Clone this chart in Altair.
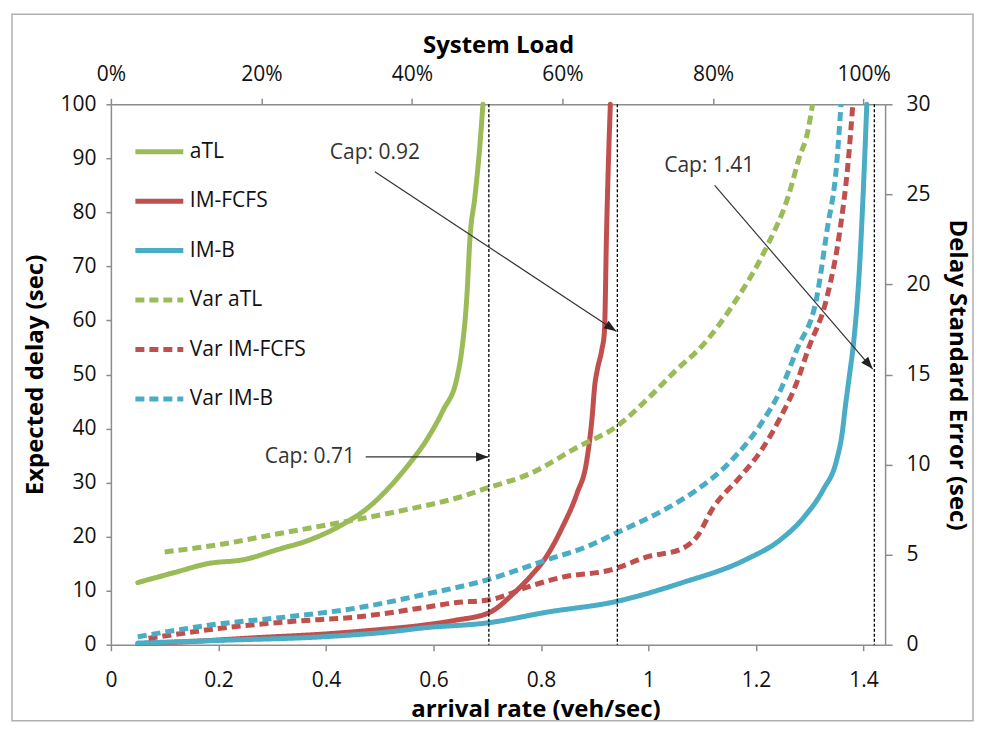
import math
import altair as alt
import pandas as pd

# ---------------- data ----------------
X_MAX = 1.44
LOAD_MAX = X_MAX / 1.4

series_names = ["aTL", "IM-FCFS", "IM-B", "Var aTL", "Var IM-FCFS", "Var IM-B"]
series_colors = ["#9BBB59", "#C0504D", "#4BACC6", "#9BBB59", "#C0504D", "#4BACC6"]
series_dash = [[1, 0], [1, 0], [1, 0], [9, 5], [9, 5], [9, 5]]
series_width = [5, 5, 5, 3, 3, 3]

# expected delay (sec), left axis
atl_x = [0.05, 0.12, 0.18, 0.25, 0.31, 0.37, 0.43, 0.48, 0.525, 0.556, 0.588, 0.618,
         0.644, 0.652, 0.662, 0.668, 0.677, 0.686, 0.692]
atl_y = [11.5, 13.4, 15.0, 15.8, 17.6, 19.4, 22.2, 25.5, 29.9, 33.6, 38.0, 43.4,
         49.5, 54.0, 64.3, 75.4, 82.8, 92.0, 100.0]

fcfs_x = [0.05, 0.15, 0.27, 0.40, 0.50, 0.58, 0.64, 0.705, 0.75, 0.78, 0.81, 0.84,
          0.867, 0.885, 0.895, 0.90, 0.905, 0.913, 0.918, 0.922, 0.925, 0.929]
fcfs_y = [0.2, 0.6, 1.3, 2.0, 2.8, 3.6, 4.5, 6.0, 9.6, 12.6, 16.3, 21.8,
          28.0, 34.0, 42.0, 48.0, 51.0, 54.5, 58.0, 76.7, 88.0, 100.0]

imb_x = [0.05, 0.20, 0.40, 0.52, 0.58, 0.705, 0.81, 0.94, 1.06, 1.18, 1.245, 1.29,
         1.325, 1.35, 1.36, 1.366, 1.375, 1.381, 1.393, 1.399, 1.406]
imb_y = [0.3, 0.8, 1.5, 2.4, 3.1, 4.1, 6.0, 8.0, 11.4, 15.7, 19.4, 23.7,
         28.7, 34.2, 39.0, 44.0, 50.8, 55.5, 70.8, 83.0, 100.0]

# delay standard error (sec), right axis
var_atl_x = [0.10, 0.20, 0.30, 0.43, 0.55, 0.65, 0.70, 0.78, 0.87, 0.94, 1.00, 1.05,
             1.10, 1.16, 1.22, 1.26, 1.28, 1.297, 1.305]
var_atl_y = [5.15, 5.55, 6.1, 6.8, 7.5, 8.2, 8.7, 9.5, 11.0, 12.1, 13.7, 15.2,
             16.6, 19.0, 22.1, 24.9, 27.0, 28.6, 30.0]

var_fcfs_x = [0.07, 0.20, 0.33, 0.46, 0.58, 0.64, 0.705, 0.72, 0.77, 0.84, 0.93, 1.00,
              1.06, 1.09, 1.12, 1.17, 1.21, 1.245, 1.275, 1.297, 1.332, 1.356, 1.371, 1.38]
var_fcfs_y = [0.35, 0.9, 1.28, 1.55, 2.05, 2.33, 2.5, 2.6, 3.15, 3.75, 4.15, 4.9,
              5.3, 6.0, 7.6, 9.3, 10.8, 12.6, 14.5, 16.4, 19.3, 23.0, 26.7, 30.0]

var_imb_x = [0.05, 0.20, 0.33, 0.46, 0.58, 0.70, 0.81, 0.89, 0.94, 1.03, 1.09, 1.15,
             1.21, 1.245, 1.276, 1.313, 1.332, 1.35, 1.358]
var_imb_y = [0.44, 1.15, 1.55, 2.05, 2.77, 3.6, 4.7, 5.5, 6.2, 7.5, 8.6, 10.1,
             12.3, 14.1, 16.4, 19.3, 23.0, 26.7, 30.0]

# capacity markers and annotations
cap_x = [0.703, 0.942, 1.42]
ann_text = ["Cap: 0.71", "Cap: 0.92", "Cap: 1.41"]
ann_text_x = [0.37, 0.491, 1.113]
ann_text_y = [34.7, 90.9, 88.5]
arrow_x1 = [0.474, 0.491, 1.123]
arrow_y1 = [34.75, 87.5, 85.0]
arrow_x2 = [0.702, 0.940, 1.417]
arrow_y2 = [34.75, 58.0, 51.0]

load_ticks = [0, 0.2, 0.4, 0.6, 0.8, 1.0]

# ---------------- layout ----------------
W, H = 775, 541
FONT = "Open Sans"

def long(xs, ys, name, col):
    return pd.DataFrame({"x": xs, col: ys, "series": name})

solid_df = pd.concat([
    long(atl_x, atl_y, "aTL", "y"),
    long(fcfs_x, fcfs_y, "IM-FCFS", "y"),
    long(imb_x, imb_y, "IM-B", "y"),
], ignore_index=True)
solid_df["order"] = solid_df.index

dash_df = pd.concat([
    long(var_atl_x, var_atl_y, "Var aTL", "se"),
    long(var_fcfs_x, var_fcfs_y, "Var IM-FCFS", "se"),
    long(var_imb_x, var_imb_y, "Var IM-B", "se"),
], ignore_index=True)
dash_df["order"] = dash_df.index

px_x = W / X_MAX
px_y = H / 100.0
angles = []
for x1, y1, x2, y2 in zip(arrow_x1, arrow_y1, arrow_x2, arrow_y2):
    dx = (x2 - x1) * px_x
    dy = -(y2 - y1) * px_y
    angles.append(math.degrees(math.atan2(dy, dx)) % 360)

ann_df = pd.DataFrame({
    "text": ann_text, "tx": ann_text_x, "ty": ann_text_y,
    "x1": arrow_x1, "y1": arrow_y1, "x2": arrow_x2, "y2": arrow_y2, "ang": angles,
})
cap_df = pd.DataFrame({"cap": cap_x})
load_df = pd.DataFrame({"load": load_ticks})

xscale = alt.Scale(domain=[0, X_MAX], nice=False, zero=False)
yscale_ann = alt.Scale(domain=[0, 100], nice=False)

legend = alt.Legend(
    title=None, orient="none", legendX=22, legendY=21, symbolType="stroke",
    symbolSize=2300, labelFontSize=21, labelFont=FONT, labelColor="#111",
    rowPadding=12.5, labelOffset=4, symbolOpacity=1,
)
color_enc = alt.Color("series:N", scale=alt.Scale(domain=series_names, range=series_colors), legend=legend)
dash_enc = alt.StrokeDash("series:N", scale=alt.Scale(domain=series_names, range=series_dash), legend=legend)
width_enc = alt.StrokeWidth("series:N", scale=alt.Scale(domain=series_names, range=series_width), legend=legend)

x_axis = alt.Axis(
    title="arrival rate (veh/sec)", values=[0, 0.2, 0.4, 0.6, 0.8, 1.0, 1.2, 1.4],
    labelExpr="datum.value == 0 ? '0' : format(datum.value, '.1~f')",
    tickSize=6, labelPadding=19, titlePadding=7, titleX=425,
)

solid = alt.Chart(solid_df).mark_line(strokeCap="round", strokeJoin="round",
                                      interpolate="monotone").encode(
    x=alt.X("x:Q", scale=xscale, axis=x_axis),
    y=alt.Y("y:Q", scale=alt.Scale(domain=[0, 100], nice=False),
            axis=alt.Axis(title="Expected delay (sec)", values=list(range(0, 101, 10)),
                          tickSize=5, labelPadding=10, titlePadding=12)),
    color=color_enc, strokeDash=dash_enc, strokeWidth=width_enc,
    detail="series:N", order="order:Q",
)

dashed = alt.Chart(dash_df).mark_line(strokeCap="butt", strokeJoin="round",
                                      interpolate="monotone").encode(
    x=alt.X("x:Q", scale=xscale),
    y=alt.Y("se:Q", scale=alt.Scale(domain=[0, 30], nice=False),
            axis=alt.Axis(orient="right", title="Delay Standard Error (sec)",
                          values=list(range(0, 31, 5)), tickSize=7, labelPadding=14,
                          titlePadding=14)),
    color=color_enc, strokeDash=dash_enc, strokeWidth=width_enc,
    detail="series:N", order="order:Q",
)

caps = alt.Chart(cap_df).mark_rule(color="#000", strokeDash=[3, 2], strokeWidth=1.3).encode(
    x=alt.X("cap:Q", scale=xscale),
)

arrows = alt.Chart(ann_df).mark_rule(color="#333", strokeWidth=1.2).encode(
    x=alt.X("x1:Q", scale=xscale), x2="x2:Q",
    y=alt.Y("y1:Q", scale=yscale_ann, axis=None), y2="y2:Q",
)

heads = alt.Chart(ann_df).mark_point(
    shape="M0,0L-2,-0.75L-2,0.75Z", filled=True, color="#222", size=150, opacity=1,
).encode(
    x=alt.X("x2:Q", scale=xscale),
    y=alt.Y("y2:Q", scale=yscale_ann, axis=None),
    angle=alt.Angle("ang:Q", scale=None),
)

labels = alt.Chart(ann_df).mark_text(
    fontSize=21, font=FONT, color="#333", align="center", baseline="middle",
).encode(
    x=alt.X("tx:Q", scale=xscale),
    y=alt.Y("ty:Q", scale=yscale_ann, axis=None),
    text="text:N",
)

inner = alt.layer(solid, dashed, caps, arrows, heads, labels).resolve_scale(y="independent")

top = alt.Chart(load_df).mark_point(opacity=0).encode(
    x=alt.X("load:Q", scale=alt.Scale(domain=[0, LOAD_MAX], nice=False, zero=False),
            axis=alt.Axis(orient="top", title="System Load", format=".0%",
                          values=load_ticks, tickSize=6, labelPadding=14, titlePadding=6)),
)

frame = alt.Chart(pd.DataFrame({"f": [0]})).mark_rect(
    fill=None, stroke="#b0b0b0", strokeWidth=1.5,
).encode(
    x=alt.value(-99), x2=alt.value(W + 88), y=alt.value(-90), y2=alt.value(H + 76),
)

chart = alt.layer(inner, top, frame).resolve_scale(x="independent", y="independent").properties(
    width=W, height=H,
    autosize=alt.AutoSizeParams(type="none"),
    padding={"left": 103, "top": 96, "right": 91, "bottom": 80},
).configure_view(stroke=None).configure_axis(
    labelFont=FONT, titleFont=FONT, labelFontSize=21, titleFontSize=24,
    titleFontWeight="bold", labelColor="#111", titleColor="#000",
    domainColor="#8c8c8c", tickColor="#8c8c8c", domainWidth=1.5, tickWidth=1.5,
    grid=False, labelFlush=False, labelOverlap=False,
)

chart.save("out.html", embed_options={"renderer": "svg", "actions": False})
